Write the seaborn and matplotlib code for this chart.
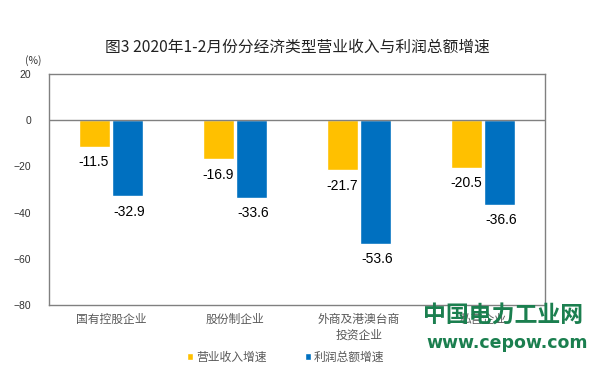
import pandas as pd
import matplotlib.pyplot as plt
import seaborn as sns
from matplotlib.patches import Patch

# data
categories = ['国有控股企业', '股份制企业', '外商及港澳台商\n投资企业', '私营企业']
series = ['营业收入增速', '利润总额增速']
revenue = [-11.5, -16.9, -21.7, -20.5]
profit = [-32.9, -33.6, -53.6, -36.6]
colors = ['#FFC000', '#0070C0']

df = pd.DataFrame({
    'cat': categories * 2,
    'series': [series[0]] * 4 + [series[1]] * 4,
    'value': revenue + profit,
})

sns.set_style('white')
plt.rcParams['font.family'] = ['Noto Sans CJK SC', 'DejaVu Sans']

fig = plt.figure(figsize=(6.08, 3.72), dpi=100)
ax = fig.add_axes([0.0806, 0.1801, 0.8158, 0.621])

sns.barplot(data=df, x='cat', y='value', hue='series', palette=colors,
            width=0.53, gap=0.04, saturation=1, legend=False, ax=ax)

ax.set_ylim(-80, 20)
ax.set_yticks(range(-80, 21, 20))
ax.axhline(0, color='#808080', lw=1)
for s in ax.spines.values():
    s.set_color('#808080')
    s.set_linewidth(1)
ax.set_xlabel('')
ax.set_ylabel('')
ax.tick_params(axis='y', length=0, pad=13, labelsize=7.5, labelcolor='#333333')
ax.tick_params(axis='x', length=0, pad=6, labelsize=8.5, labelcolor='#595959')
for lab in ax.get_yticklabels():
    lab.set_family('Liberation Sans')

# data labels
for k, cont in enumerate(ax.containers):
    for bar in cont:
        h = bar.get_height()
        x = bar.get_x() + bar.get_width() / 2
        ax.annotate(f'{h:.1f}', (x, h), xytext=(1.5 if k == 1 else -0.5, -6),
                    textcoords='offset points', ha='center', va='top',
                    fontsize=10, family='Liberation Sans', color='black')

fig.text(0.49, 0.874, '图3 2020年1-2月份分经济类型营业收入与利润总额增速',
         ha='center', va='center', fontsize=11.3, color='#222222')
fig.text(0.054, 0.838, '(%)', ha='center', va='center', fontsize=7.5,
         color='#333333')

handles = [Patch(facecolor=c) for c in colors]
fig.legend(handles, series, loc='center', bbox_to_anchor=(0.47, 0.04),
           ncol=2, frameon=False, fontsize=8.5, handlelength=0.5,
           handleheight=0.5, handletextpad=0.3, columnspacing=3.2,
           labelcolor='#595959')

# watermark
fig.text(0.827, 0.153, '中国电力工业网', ha='center', va='center',
         fontsize=16.5, fontweight='bold', color='#1b7f4f')
fig.text(0.834, 0.078, 'www.cepow.com', ha='center', va='center',
         fontsize=12.5, fontweight='bold', color='#1b7f4f',
         family='DejaVu Sans')

fig.savefig('out.png', dpi=100)
